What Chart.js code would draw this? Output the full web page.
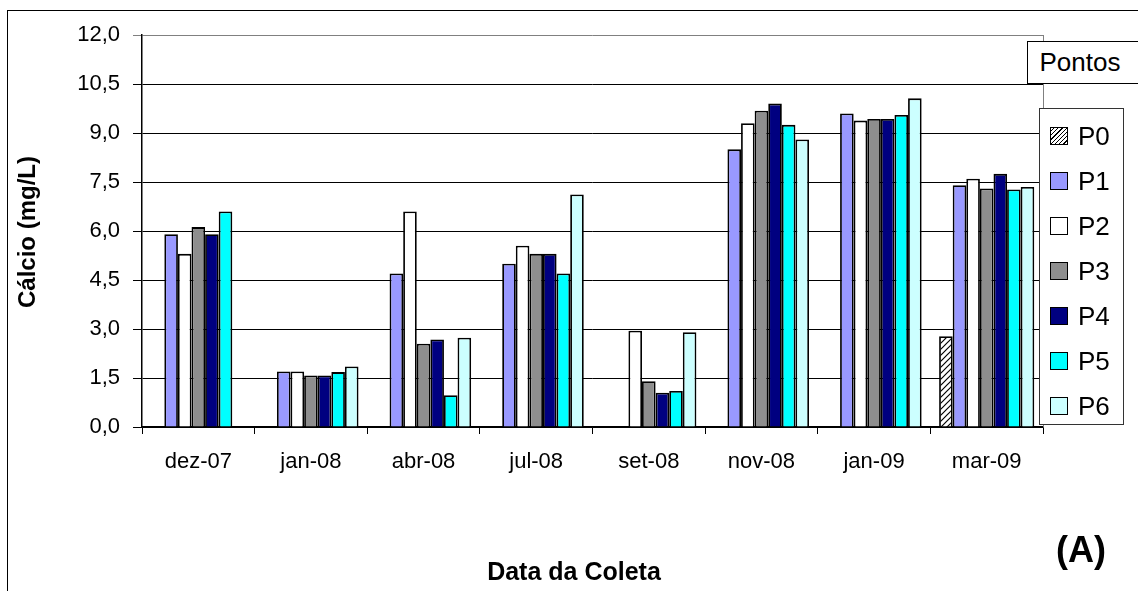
<!DOCTYPE html>
<html lang="pt">
<head>
<meta charset="utf-8">
<title>Cálcio (mg/L)</title>
<script src="https://cdn.jsdelivr.net/npm/chart.js@4.4.1/dist/chart.umd.min.js"></script>
<style>
    html, body { margin: 0; padding: 0; background: #fff; }
    #wrap { position: relative; width: 1138px; height: 591px; overflow: hidden; font-family: Arial, "Liberation Sans", sans-serif; }
    #frame { position: absolute; left: 7px; top: 10px; width: 1200px; height: 700px; border: 1.5px solid #000; box-sizing: border-box; pointer-events: none; }
    #chart { position: absolute; left: 0; top: 0; }
    .axis-title { position: absolute; font-weight: bold; color: #000; white-space: nowrap; }
    #yTitle { left: 27px; top: 232px; font-size: 24px; transform: translate(-50%, -50%) rotate(-90deg); }
    #xTitle { left: 574px; top: 571px; font-size: 25px; transform: translate(-50%, -50%); }
    #tag { left: 1081px; top: 550px; font-size: 36px; transform: translate(-50%, -50%); }
    #pontos { position: absolute; left: 1027px; top: 41px; width: 112px; height: 43px; border: 1.5px solid #000; background: #fff; box-sizing: border-box;
              font-size: 26px; line-height: 40px; text-align: center; padding-right: 6px; }
    #legend { position: absolute; left: 1039px; top: 108px; width: 85px; height: 317px; border: 1px solid #333; background: #fff; box-sizing: border-box; }
    .leg-item { position: absolute; left: 10px; height: 30px; display: flex; align-items: center; font-size: 26px; }
    .leg-box { width: 16px; height: 16px; border: 1.5px solid #000; margin-right: 10px; box-sizing: content-box; }
</style>
</head>
<body>
<div id="wrap">
    <canvas id="chart" width="1138" height="591"></canvas>
    <div id="frame"></div>
    <div id="yTitle" class="axis-title">Cálcio (mg/L)</div>
    <div id="xTitle" class="axis-title">Data da Coleta</div>
    <div id="tag" class="axis-title">(A)</div>
    <div id="pontos">Pontos</div>
    <div id="legend"></div>
</div>
<script>

const categorias = ['dez-07', 'jan-08', 'abr-08', 'jul-08', 'set-08', 'nov-08', 'jan-09', 'mar-09'];

const P0 = [null, null, null, null, null, null, null, 2.78];
const P1 = [5.9, 1.7, 4.7, 5.0, null, 8.5, 9.6, 7.4];
const P2 = [5.3, 1.7, 6.6, 5.55, 2.95, 9.3, 9.38, 7.6];
const P3 = [6.12, 1.58, 2.55, 5.3, 1.4, 9.68, 9.43, 7.3];
const P4 = [5.9, 1.58, 2.68, 5.3, 1.05, 9.9, 9.43, 7.75];
const P5 = [6.6, 1.68, 0.97, 4.7, 1.1, 9.25, 9.55, 7.27];
const P6 = [null, 1.85, 2.73, 7.12, 2.9, 8.8, 10.06, 7.35];

const nomes = ['P0', 'P1', 'P2', 'P3', 'P4', 'P5', 'P6'];
const series = [P0, P1, P2, P3, P4, P5, P6];
const cores = ['hatch', '#9999FF', '#FFFFFF', '#8E8E8E', '#000080', '#00FFFF', '#CCFFFF'];

// eixo y: 0,0 até 12,0 de 1,5 em 1,5
const yMin = 0;
const yMax = 12;
const yPasso = 1.5;

// padrão hachurado do P0
function criarHachura() {
    const c = document.createElement('canvas');
    c.width = 6;
    c.height = 6;
    const g = c.getContext('2d');
    g.fillStyle = '#fff';
    g.fillRect(0, 0, 6, 6);
    g.strokeStyle = '#000';
    g.lineWidth = 1.2;
    g.beginPath();
    g.moveTo(0, 6); g.lineTo(6, 0);
    g.moveTo(-3, 3); g.lineTo(3, -3);
    g.moveTo(3, 9); g.lineTo(9, 3);
    g.stroke();
    return document.getElementById('chart').getContext('2d').createPattern(c, 'repeat');
}

const hachura = criarHachura();

function corDe(i) {
    return cores[i] === 'hatch' ? hachura : cores[i];
}

// legenda montada à mão (sobreposta ao gráfico, como no original)
function montarLegenda() {
    const leg = document.getElementById('legend');
    nomes.forEach((nome, i) => {
        const item = document.createElement('div');
        item.className = 'leg-item';
        item.style.top = (12 + i * 45) + 'px';
        const box = document.createElement('div');
        box.className = 'leg-box';
        if (cores[i] === 'hatch') {
            box.style.background = 'repeating-linear-gradient(-45deg, #fff 0 2px, #000 2px 3px)';
        } else {
            box.style.background = cores[i];
        }
        item.appendChild(box);
        item.appendChild(document.createTextNode(nome));
        leg.appendChild(item);
    });
}

montarLegenda();

const datasets = series.map((dados, i) => ({
    label: nomes[i],
    data: dados,
    backgroundColor: corDe(i),
    borderColor: '#000',
    borderWidth: 1.8,
    categoryPercentage: 0.845,
    barPercentage: 1.0
}));

new Chart(document.getElementById('chart'), {
    type: 'bar',
    data: {
        labels: categorias,
        datasets: datasets
    },
    options: {
        responsive: false,
        devicePixelRatio: 1,
        animation: false,
        layout: {
            padding: { left: 0, right: 95, top: 35, bottom: 0 }
        },
        plugins: {
            legend: { display: false },
            tooltip: { enabled: false }
        },
        scales: {
            x: {
                offset: true,
                afterFit: (scale) => { scale.height = 164; },
                grid: {
                    offset: true,
                    drawOnChartArea: false,
                    color: '#000',
                    tickLength: 7
                },
                border: { color: '#000', width: 1.5 },
                ticks: {
                    color: '#000',
                    padding: 15,
                    font: { family: 'Arial, "Liberation Sans", sans-serif', size: 22 }
                }
            },
            y: {
                min: yMin,
                max: yMax,
                afterFit: (scale) => { scale.width = 142; },
                grid: {
                    color: (ctx) => (ctx.tick && ctx.tick.value === yMax ? '#808080' : '#000'),
                    lineWidth: 1,
                    tickLength: 9
                },
                border: { color: '#000', width: 1.5 },
                ticks: {
                    stepSize: yPasso,
                    color: '#000',
                    padding: 13,
                    font: { family: 'Arial, "Liberation Sans", sans-serif', size: 22 },
                    callback: (v) => Number(v).toFixed(1).replace('.', ',')
                }
            }
        }
    },
    plugins: [{
        // borda direita cinza da área do gráfico
        id: 'bordaDireita',
        afterDraw(chart) {
            const a = chart.chartArea;
            const ctx = chart.ctx;
            ctx.save();
            ctx.strokeStyle = '#808080';
            ctx.lineWidth = 1;
            ctx.beginPath();
            ctx.moveTo(a.right + 0.5, a.top);
            ctx.lineTo(a.right + 0.5, a.bottom);
            ctx.stroke();
            ctx.restore();
        }
    }]
});
</script>
</body>
</html>
